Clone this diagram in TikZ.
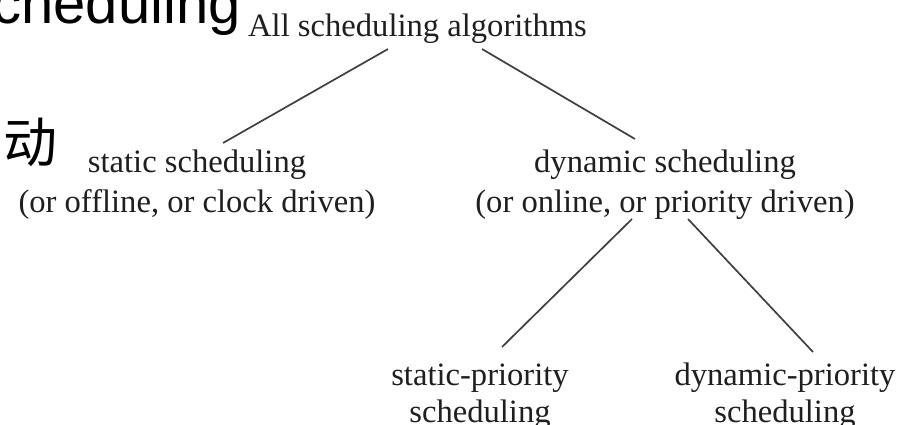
\documentclass[tikz,border=0pt]{standalone}
\usepackage{fontspec}
\setmainfont{Liberation Serif}
\newfontfamily\headsans{Liberation Sans}
\newfontfamily\cjk{Noto Sans CJK SC}
\begin{document}
\begin{tikzpicture}[x=1pt,y=-1pt,
  label/.style={inner sep=0pt, anchor=base, align=center, text=black!88,
    font=\fontsize{32.6}{40}\selectfont},
  lower/.style={label, font=\fontsize{32.6}{37}\selectfont},
  branch/.style={draw=black!75, line width=1.7pt}]
\useasboundingbox[fill=white] (0,0) rectangle (899,424);

% slide fragments behind the tree
\node[inner sep=0pt, anchor=base east, font=\headsans\fontsize{58}{58}\selectfont]
  (slidetitle) at (241,23) {scheduling};
\node[inner sep=0pt, font=\cjk\fontsize{54}{54}\selectfont] (slidechar) at (30,142) {动};

% tree of scheduling classes (base anchor = baseline of the last line)
\node[label] (root) at (417.5,36) {All scheduling algorithms};
\node[label] (stat) at (197,212) {static scheduling\\(or offline, or clock driven)};
\node[label] (dyn)  at (665,212) {dynamic scheduling\\(or online, or priority driven)};
\node[lower] (sp)   at (480,422) {static-priority\\scheduling};
\node[lower] (dp)   at (785,422) {dynamic-priority\\scheduling};

\draw[branch] ([shift={(-29.5,13)}]root.base) -- ([shift={(26,-69)}]stat.base);
\draw[branch] ([shift={(64.5,13)}]root.base) -- ([shift={(-30,-73)}]dyn.base);
\draw[branch] ([shift={(-33,7)}]dyn.base) -- ([shift={(22,-75)}]sp.base);
\draw[branch] ([shift={(23,7)}]dyn.base) -- ([shift={(28,-70)}]dp.base);
\end{tikzpicture}
\end{document}
